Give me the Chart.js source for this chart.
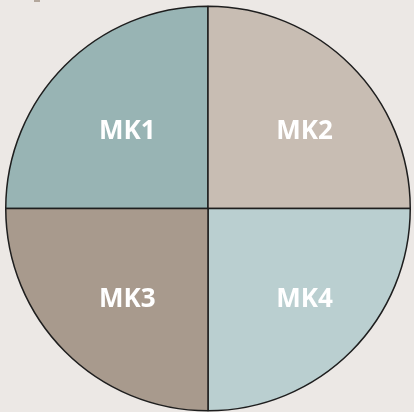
<!DOCTYPE html>
<html>
<head>
<meta charset="utf-8">
<script src="https://cdn.jsdelivr.net/npm/chart.js@4"></script>
<style>
  html, body { margin: 0; padding: 0; background: #ece8e5; }
  #wrap { position: relative; width: 414px; height: 412px; }
  #mark { position: absolute; left: 34px; top: 0; width: 6px; height: 2px; background: #b3a79c; }
</style>
</head>
<body>
<div id="wrap">
  <canvas id="pieChart" width="414" height="412"></canvas>
  <div id="mark"></div>
</div>
<script>
// Data (in drawing order, starting at 9 o'clock, clockwise)
const labels = ['MK1', 'MK2', 'MK4', 'MK3'];
const values = [25, 25, 25, 25];
const colors = ['#98b4b4', '#c8bdb3', '#bacfd0', '#a89a8d'];

// Draw slice names in white on each slice
const sliceLabels = {
    id: 'sliceLabels',
    afterDatasetsDraw(chart) {
        const ctx = chart.ctx;
        const meta = chart.getDatasetMeta(0);
        ctx.save();
        ctx.fillStyle = '#ffffff';
        ctx.font = 'bold 26px "Open Sans", sans-serif';
        ctx.textAlign = 'center';
        ctx.textBaseline = 'middle';
        meta.data.forEach((arc, i) => {
            const p = arc.getProps(['x', 'y', 'startAngle', 'endAngle', 'outerRadius'], true);
            const mid = (p.startAngle + p.endAngle) / 2;
            const lx = p.x + Math.cos(mid) * p.outerRadius * 0.62 + 8;
            const ly = p.y + Math.sin(mid) * p.outerRadius * 0.585 + 7;
            ctx.fillText(labels[i], lx, ly);
        });
        ctx.restore();
    }
};

const ctx = document.getElementById('pieChart').getContext('2d');
const pieChart = new Chart(ctx, {
    type: 'pie',
    data: {
        labels: labels,
        datasets: [{
            data: values,
            backgroundColor: colors,
            borderColor: '#1e1e1e',
            borderWidth: 1.5
        }]
    },
    options: {
        responsive: false,
        animation: false,
        rotation: -90,
        layout: { padding: { top: 5, left: 5, right: 3, bottom: 0 } },
        plugins: {
            legend: { display: false },
            tooltip: { enabled: false }
        }
    },
    plugins: [sliceLabels]
});
</script>
</body>
</html>
